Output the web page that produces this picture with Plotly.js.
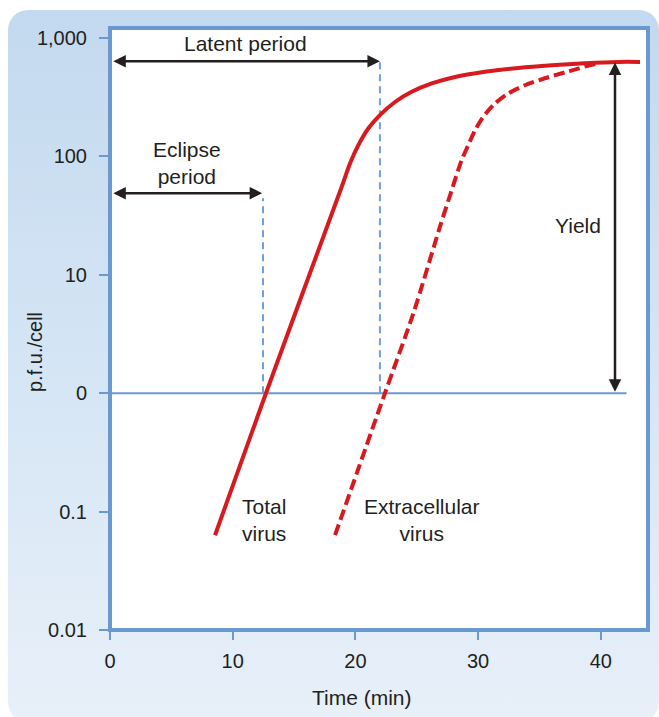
<!DOCTYPE html>
<html>
<head>
<meta charset="utf-8">
<script src="https://cdn.plot.ly/plotly-3.0.1.min.js"></script>
<style>
  html, body { margin: 0; padding: 0; background: #ffffff; }
  #wrap { position: relative; width: 659px; height: 717px; overflow: hidden; }
  #bg { position: absolute; left: 8px; top: 10px; width: 651px; height: 712px;
        border-radius: 20px;
        background: linear-gradient(to bottom, #c3d9ef 0%, #d3e4f4 45%, #e8f0f9 100%); }
  #chart { position: absolute; left: 0; top: 0; width: 659px; height: 717px; }
</style>
</head>
<body>
<div id="wrap"><div id="bg"></div><div id="chart"></div></div>
<script>
// ---- data ----
const timeTotal = [8.56, 12.71, 18.88, 19.56, 20.24, 21.05, 22.0, 23.23, 24.59, 26.22, 28.12, 30.56, 33.28, 36.0, 38.71, 41.43, 43.2];
const pfuTotal  = [0.0632, 1.0, 55.2, 87.1, 124.4, 172, 223, 288, 351, 413, 469, 518, 559, 589, 612, 628, 628];

const timeExtra = [18.34, 22.41, 24.72, 26.89, 27.85, 28.66, 29.2, 29.75, 30.42, 31.38, 32.46, 33.82, 35.45, 37.08, 38.17, 39.26, 39.94];
const pfuExtra  = [0.0632, 1.0, 4.71, 25.4, 51.8, 92.9, 124.4, 166, 216, 280, 340, 399, 457, 512, 552, 595, 615];

const baselineX = [0, 42.1];
const baselineY = [1, 1];
const eclipseLineX = [12.47, 12.47];
const eclipseLineY = [1, 44.4];
const latentLineX = [22.0, 22.0];
const latentLineY = [1, 628];

// double-headed arrows (y in p.f.u./cell)
const arrowNames = ["Latent", "Eclipse", "Yield"];
const arrowX0 = [0.15, 0.15, 41.16];
const arrowY0 = [637, 48.9, 1];
const arrowX1 = [22.0, 12.4, 41.16];
const arrowY1 = [637, 48.9, 620];

const labelText = ["Latent period", "Eclipse<br>period", "Yield", "Total<br>virus", "Extracellular<br>virus"];
const labelX = [11.04, 6.28, 38.18, 12.55, 25.39];
const labelY = [904, 87.7, 26.2, 0.0845, 0.0845];

const xTickVals = [0, 10, 20, 30, 40];
const yTickVals = [0.01, 0.1, 1, 10, 100, 1000];
const yTickText = ["0.01", "0.1", "0", "10", "100", "1,000"];

// ---- styling ----
const RED = "#d71920";
const BLUE = "#6a98d0";
const DASHBLUE = "#6f9fd8";
const INK = "#231f20";
const FONT = "Liberation Sans, Arial, Helvetica, sans-serif";

const traces = [
  { x: baselineX, y: baselineY, mode: "lines", line: { color: BLUE, width: 2 }, hoverinfo: "skip" },
  { x: eclipseLineX, y: eclipseLineY, mode: "lines", line: { color: DASHBLUE, width: 2, dash: "7px,5px" }, hoverinfo: "skip" },
  { x: latentLineX, y: latentLineY, mode: "lines", line: { color: DASHBLUE, width: 2, dash: "7px,5px" }, hoverinfo: "skip" },
  { x: timeExtra, y: pfuExtra, mode: "lines", name: "Extracellular virus",
    line: { color: RED, width: 4, dash: "11px,5px", shape: "spline", smoothing: 0.8 } },
  { x: timeTotal, y: pfuTotal, mode: "lines", name: "Total virus",
    line: { color: RED, width: 4, shape: "spline", smoothing: 0.8 } }
];

const annotations = [];
for (let i = 0; i < arrowNames.length; i++) {
  annotations.push({
    x: arrowX1[i], y: Math.log10(arrowY1[i]), xref: "x", yref: "y",
    ax: arrowX0[i], ay: Math.log10(arrowY0[i]), axref: "x", ayref: "y",
    text: "", showarrow: true, arrowhead: 2, startarrowhead: 2, arrowside: "end+start",
    arrowsize: 1, startarrowsize: 1, arrowwidth: 2.5, arrowcolor: INK
  });
}
for (let i = 0; i < labelText.length; i++) {
  annotations.push({
    x: labelX[i], y: Math.log10(labelY[i]), xref: "x", yref: "y",
    text: labelText[i], showarrow: false, xanchor: "center", yanchor: "middle",
    font: { family: FONT, size: 21, color: INK }
  });
}
annotations.push({
  x: -0.1394, y: 0.4618, xref: "paper", yref: "paper", text: "p.f.u./cell",
  textangle: -90, showarrow: false, xanchor: "center", yanchor: "middle",
  font: { family: FONT, size: 20, color: INK }
});
annotations.push({
  x: 0.468, y: -0.1113, xref: "paper", yref: "paper", text: "Time (min)",
  showarrow: false, xanchor: "center", yanchor: "middle",
  font: { family: FONT, size: 21, color: INK }
});

const layout = {
  width: 659, height: 717,
  margin: { l: 110, r: 11, t: 28, b: 87 },
  paper_bgcolor: "rgba(0,0,0,0)",
  plot_bgcolor: "#ffffff",
  showlegend: false,
  font: { family: FONT, size: 20, color: INK },
  xaxis: {
    range: [0, 43.85], tickvals: xTickVals, ticks: "outside", ticklen: 9, tickwidth: 2,
    tickcolor: BLUE, showgrid: false, zeroline: false, showline: false,
    tickfont: { family: FONT, size: 20, color: INK }, ticklabelstandoff: 4
  },
  yaxis: {
    type: "log", range: [-2, 3.0845], tickvals: yTickVals, ticktext: yTickText,
    ticks: "outside", ticklen: 10, tickwidth: 2, tickcolor: BLUE,
    showgrid: false, zeroline: false, showline: false,
    tickfont: { family: FONT, size: 20, color: INK }, ticklabelstandoff: 8
  },
  shapes: [{
    type: "rect", xref: "paper", yref: "paper", x0: 0, x1: 1, y0: 0, y1: 1,
    line: { color: BLUE, width: 4 }, fillcolor: "rgba(0,0,0,0)", layer: "above"
  }],
  annotations: annotations
};

Plotly.newPlot("chart", traces, layout, { displayModeBar: false, staticPlot: true });
</script>
</body>
</html>
